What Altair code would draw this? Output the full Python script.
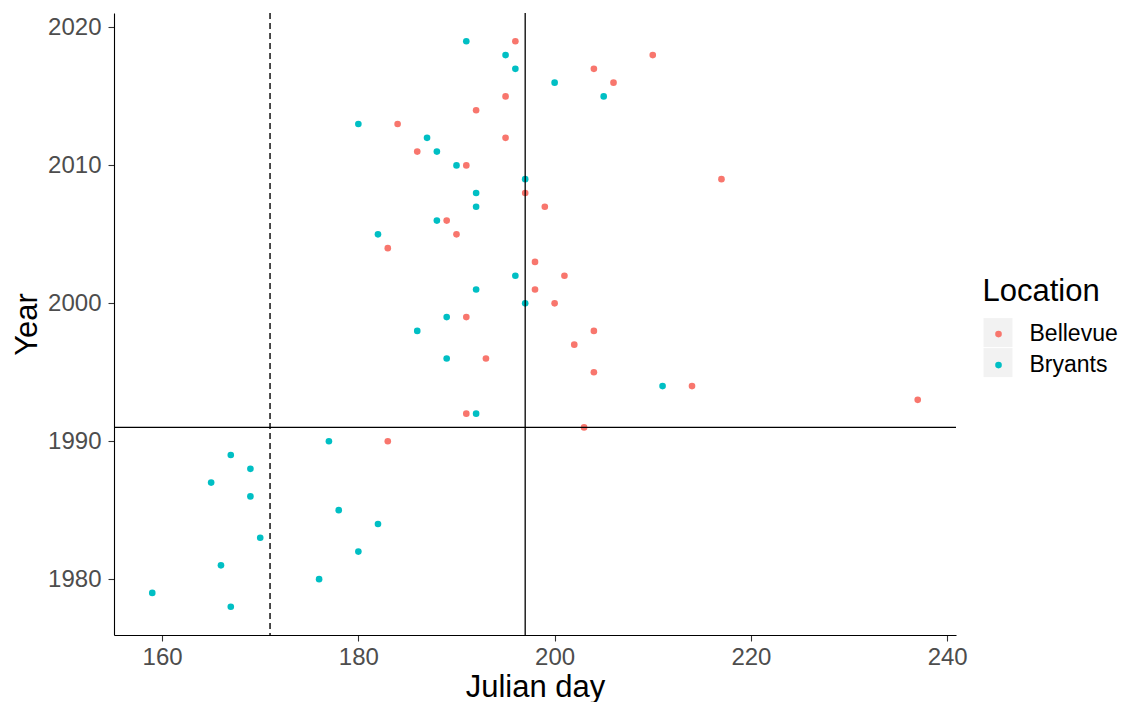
import altair as alt
import pandas as pd

# Bellevue observations (year, Julian day)
bellevue_years = [1990, 1991, 1992, 1993, 1994, 1995, 1996, 1997, 1998, 1999,
                  2000, 2001, 2002, 2003, 2004, 2005, 2006, 2007, 2008, 2009,
                  2010, 2011, 2012, 2013, 2014, 2015, 2016, 2017, 2018, 2019]
bellevue_days = [183, 203, 191, 237, 214, 204, 193, 202, 204, 191,
                 200, 198, 201, 198, 183, 190, 189, 199, 197, 217,
                 191, 186, 195, 184, 192, 195, 206, 204, 210, 196]

# Bryants observations (year, Julian day)
bryants_years = [1978, 1979, 1980, 1981, 1982, 1983, 1984, 1985, 1986, 1987,
                 1988, 1989, 1990, 1992, 1994, 1996, 1998, 1999, 2000, 2001,
                 2002, 2005, 2006, 2007, 2008, 2009, 2010, 2011, 2012, 2013,
                 2015, 2016, 2017, 2018, 2019]
bryants_days = [167, 159, 176, 166, 180, 170, 182, 178, 169, 165,
                169, 167, 177, 192, 211, 189, 186, 189, 197, 192,
                196, 182, 188, 192, 192, 197, 190, 188, 187, 180,
                205, 200, 196, 195, 191]

locations = ["Bellevue", "Bryants"]
location_colors = ["#F8766D", "#00BFC4"]

# reference lines
dashed_day = [171]
solid_day = [197]
hline_year = [1991]

x_ticks = [160, 180, 200, 220, 240]
y_ticks = [1980, 1990, 2000, 2010, 2020]

df = pd.DataFrame({
    "Location": ["Bellevue"] * len(bellevue_years) + ["Bryants"] * len(bryants_years),
    "Year": bellevue_years + bryants_years,
    "day": bellevue_days + bryants_days,
})
df["key"] = df["Location"]

FONT = "Liberation Sans"
W, H = 842, 622

x_scale = alt.Scale(domain=[155.1, 240.9], nice=False, zero=False)
y_scale = alt.Scale(domain=[1975.95, 2021.05], nice=False, zero=False)

x_axis = alt.Axis(values=x_ticks, format="d", title="Julian day",
                  titleY=61, titleBaseline="alphabetic", labelPadding=4)
y_axis = alt.Axis(values=y_ticks, format="d", title="Year",
                  titleX=-77.5, titleBaseline="alphabetic", labelPadding=7)

# legend background keys (grey squares)
keys = alt.Chart(df).mark_point(filled=True, opacity=0, color="#F2F2F2").encode(
    x=alt.X("day:Q", scale=x_scale, axis=x_axis),
    y=alt.Y("Year:Q", scale=y_scale, axis=y_axis),
    shape=alt.Shape("key:N", scale=alt.Scale(range=["square", "square"]),
                    legend=alt.Legend(orient="none", legendX=869.5, legendY=305.1, title="",
                                      symbolSize=841, symbolFillColor="#F2F2F2",
                                      symbolStrokeWidth=0, symbolOpacity=1, symbolOffset=0,
                                      labelExpr="''", labelFontSize=1,
                                      rowPadding=1, padding=0)),
)

points = alt.Chart(df).mark_circle(size=44, opacity=1).encode(
    x=alt.X("day:Q", scale=x_scale, axis=x_axis),
    y=alt.Y("Year:Q", scale=y_scale, axis=y_axis),
    color=alt.Color("Location:N", scale=alt.Scale(domain=locations, range=location_colors),
                    legend=alt.Legend(orient="none", legendX=868.5, legendY=263.6,
                                      title="Location", titleFontSize=31, titleFont=FONT,
                                      titleColor="black", titleFontWeight="normal",
                                      titlePadding=15, symbolType="circle", symbolSize=44,
                                      symbolStrokeWidth=0, symbolOffset=4.5,
                                      labelOffset=19.5, labelFontSize=23, labelFont=FONT,
                                      labelColor="black", rowPadding=7, padding=0)),
)

dashed = alt.Chart(pd.DataFrame({"day": dashed_day})).mark_rule(
    color="black", strokeWidth=1.4, strokeDash=[6, 4]).encode(x=alt.X("day:Q"))
solid = alt.Chart(pd.DataFrame({"day": solid_day})).mark_rule(
    color="black", strokeWidth=1.3).encode(x=alt.X("day:Q"))
hline = alt.Chart(pd.DataFrame({"Year": hline_year})).mark_rule(
    color="black", strokeWidth=1.3).encode(y=alt.Y("Year:Q"))

chart = alt.layer(keys, points, dashed, solid, hline).properties(
    width=W, height=H,
    autosize=alt.AutoSizeParams(type="none"),
    padding={"left": 114, "top": 13, "right": 1128 - 114 - W, "bottom": 702 - 13 - H},
).configure(background="white").configure_view(stroke=None).configure_axis(
    grid=False, domainColor="black", domainWidth=1.1, tickColor="#333333",
    tickWidth=1.1, tickSize=6, labelFont=FONT, labelFontSize=24, labelColor="#4D4D4D",
    titleFont=FONT, titleFontSize=31, titleFontWeight="normal", titleColor="black",
)

chart.save("out.html", embed_options={"renderer": "svg", "actions": False})
